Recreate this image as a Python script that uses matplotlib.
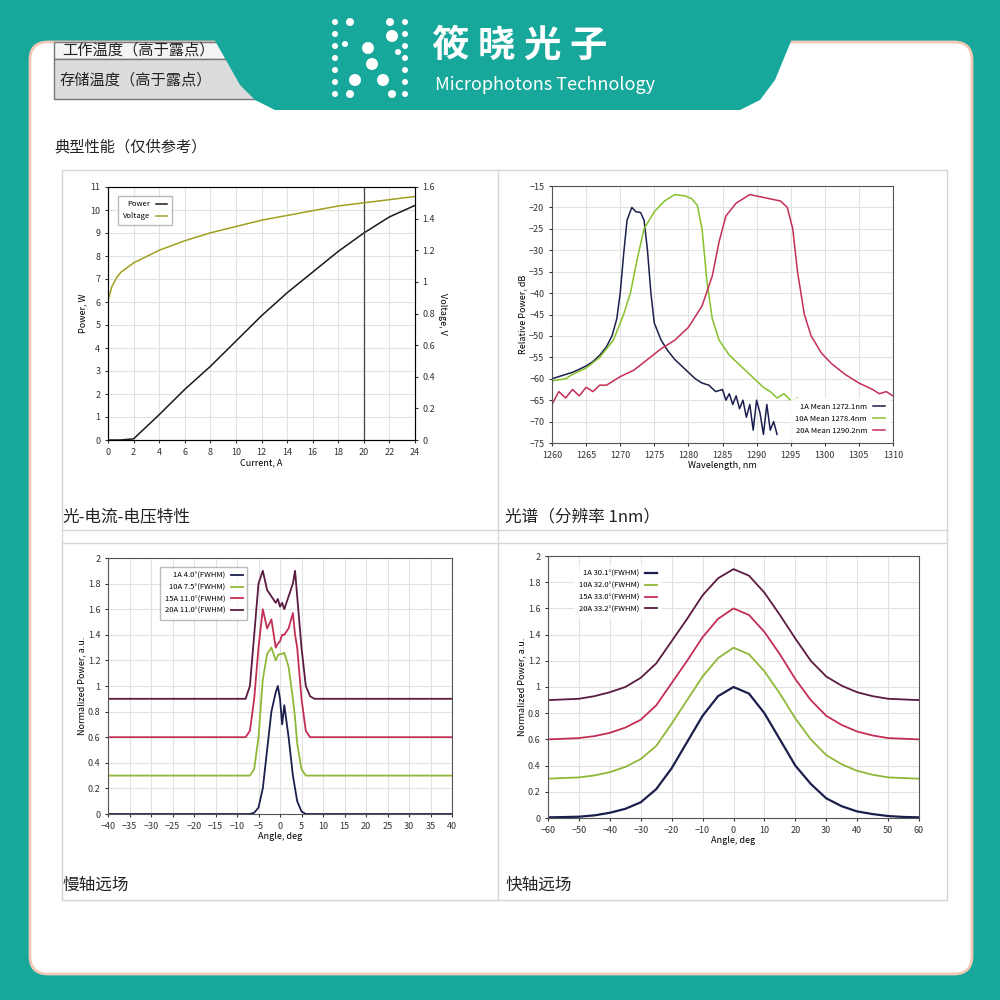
import matplotlib
matplotlib.use("Agg")
import matplotlib.pyplot as plt
import numpy as np
from matplotlib.patches import FancyBboxPatch, Polygon, Rectangle, Circle

plt.rcParams['font.family'] = ['Noto Sans CJK SC', 'DejaVu Sans']

# ---------------- data ----------------
liv_current = [0, 1, 2, 4, 6, 8, 10, 12, 14, 16, 18, 20, 22, 24]
liv_power = [0, 0, 0.05, 1.1, 2.2, 3.2, 4.3, 5.4, 6.4, 7.3, 8.2, 9.0, 9.7, 10.2]
liv_volt_current = [0, 0.3, 0.7, 1, 2, 4, 6, 8, 10, 12, 14, 16, 18, 20, 22, 24]
liv_voltage = [0.88, 0.97, 1.03, 1.06, 1.12, 1.2, 1.26, 1.31, 1.35, 1.39, 1.42, 1.45, 1.48, 1.50, 1.52, 1.54]

sp_wl_1A = [1260, 1261, 1262, 1263, 1264, 1265, 1266, 1267, 1268, 1268.8, 1269.5, 1270, 1270.5, 1271, 1271.7, 1272.3, 1273, 1273.5,
            1274, 1274.5, 1275, 1276, 1277, 1278, 1279, 1280, 1281, 1282, 1283, 1284, 1285, 1285.5, 1286, 1286.5, 1287, 1287.5,
            1288, 1288.5, 1289, 1289.5, 1290, 1290.5, 1291, 1291.5, 1292, 1292.5, 1293]
sp_1A = [-60, -59.5, -59, -58.5, -57.8, -57, -56, -54.5, -52.5, -50, -46, -40, -31, -23, -20, -21, -21.2, -23,
         -30, -40, -47, -51, -53.5, -55.5, -57, -58.5, -60, -61, -61.5, -63, -62.5, -65, -63.5, -66, -64, -67,
         -65, -69, -66, -72, -65, -68, -73, -66, -72, -70, -73]
sp_wl_10A = [1260, 1262, 1263, 1265, 1267, 1269, 1270.5, 1271.5, 1272.5, 1273.5, 1275, 1276.5, 1278, 1279.5, 1280.5, 1281.3,
             1282, 1282.7, 1283.5, 1284.5, 1286, 1288, 1290, 1291, 1292, 1293, 1294, 1295, 1296]
sp_10A = [-60.5, -60, -59, -57.5, -55, -51, -45, -40, -32, -25, -21, -18.5, -17, -17.3, -18, -19.5,
          -25, -37, -46, -51, -54.5, -57.5, -60.5, -62, -63, -64.5, -63.5, -65, -64.5]
sp_wl_20A = [1260, 1261, 1262, 1263, 1264, 1265, 1266, 1267, 1268, 1270, 1272, 1274, 1276, 1278, 1280, 1282, 1283.5, 1284.5,
             1285.5, 1287, 1289, 1290.5, 1292, 1293.5, 1294.5, 1295.3, 1296, 1297, 1298, 1299.5, 1301, 1303, 1305, 1307, 1308, 1309, 1310]
sp_20A = [-66, -63, -64.5, -62.5, -64, -62, -63, -61.5, -61.5, -59.5, -58, -55.5, -53, -51, -48, -43, -36, -28,
          -22, -19, -17, -17.5, -18, -18.5, -20, -25, -35, -45, -50, -54, -56.5, -59, -61, -62.5, -63.5, -63, -64]
sp_labels = ['1A Mean 1272.1nm', '10A Mean 1278.4nm', '20A Mean 1290.2nm']

slow_angle = [-40, -9, -8, -7, -6, -5, -4, -3, -2, -1, -0.5, 0, 0.5, 1, 2, 3, 3.5, 4, 5, 6, 7, 8, 9, 40]
slow_1A = [0, 0, 0, 0, 0.01, 0.05, 0.2, 0.5, 0.8, 0.95, 1.0, 0.9, 0.7, 0.85, 0.6, 0.3, 0.2, 0.1, 0.02, 0, 0, 0, 0, 0]
slow_10A = [0.3, 0.3, 0.3, 0.3, 0.35, 0.6, 1.05, 1.25, 1.3, 1.2, 1.24, 1.25, 1.25, 1.26, 1.15, 0.9, 0.75, 0.55, 0.35, 0.3, 0.3, 0.3, 0.3, 0.3]
slow_15A = [0.6, 0.6, 0.6, 0.65, 0.9, 1.3, 1.6, 1.45, 1.52, 1.3, 1.33, 1.35, 1.4, 1.4, 1.45, 1.57, 1.4, 1.3, 0.9, 0.65, 0.6, 0.6, 0.6, 0.6]
slow_20A = [0.9, 0.9, 0.9, 1.0, 1.4, 1.8, 1.9, 1.75, 1.7, 1.65, 1.68, 1.62, 1.65, 1.6, 1.7, 1.8, 1.9, 1.7, 1.3, 1.0, 0.92, 0.9, 0.9, 0.9]
slow_labels = ['1A 4.0°(FWHM)', '10A 7.5°(FWHM)', '15A 11.0°(FWHM)', '20A 11.0°(FWHM)']

fast_angle = [-60, -55, -50, -45, -40, -35, -30, -25, -20, -15, -10, -5, 0, 5, 10, 15, 20, 25, 30, 35, 40, 45, 50, 55, 60]
fast_1A = [0.005, 0.007, 0.01, 0.02, 0.04, 0.07, 0.12, 0.22, 0.38, 0.58, 0.78, 0.93, 1.0, 0.95, 0.8, 0.6, 0.4, 0.26, 0.15, 0.09, 0.05, 0.03, 0.015, 0.008, 0.005]
fast_10A = [0.3, 0.305, 0.31, 0.325, 0.35, 0.39, 0.45, 0.55, 0.72, 0.9, 1.08, 1.22, 1.3, 1.25, 1.12, 0.95, 0.76, 0.6, 0.48, 0.41, 0.36, 0.33, 0.31, 0.305, 0.3]
fast_15A = [0.6, 0.605, 0.61, 0.625, 0.65, 0.69, 0.75, 0.86, 1.03, 1.2, 1.38, 1.52, 1.6, 1.55, 1.42, 1.25, 1.06, 0.9, 0.78, 0.71, 0.66, 0.63, 0.61, 0.605, 0.6]
fast_20A = [0.9, 0.905, 0.91, 0.93, 0.96, 1.0, 1.07, 1.18, 1.35, 1.52, 1.7, 1.83, 1.9, 1.85, 1.72, 1.55, 1.37, 1.2, 1.08, 1.01, 0.96, 0.93, 0.91, 0.905, 0.9]
fast_labels = ['1A 30.1°(FWHM)', '10A 32.0°(FWHM)', '15A 33.0°(FWHM)', '20A 33.2°(FWHM)']

captions = ['光-电流-电压特性', '光谱（分辨率 1nm）', '慢轴远场', '快轴远场']

C_NAVY = '#1b1f4d'
C_GREEN = '#8fb838'
C_RED = '#c42e55'
C_PURPLE = '#5b1a3f'
TEAL = '#17a89b'

W = H = 1000
fig = plt.figure(figsize=(10, 10), dpi=100)
fig.patch.set_facecolor(TEAL)
bg = fig.add_axes([0, 0, 1, 1])
bg.set_xlim(0, W); bg.set_ylim(H, 0); bg.axis('off')

bg.add_patch(FancyBboxPatch((30, 42), 942, 932, boxstyle="round,pad=0,rounding_size=18",
                            fc='white', ec='#f2c9b8', lw=2, zorder=1))
bg.add_patch(Rectangle((54, 42), 205, 17, fc='#f4f4f4', ec='#777', lw=1, zorder=2))
bg.add_patch(Rectangle((54, 59), 205, 40, fc='#dcdcdc', ec='#777', lw=1, zorder=2))
bg.text(62, 50, '工作温度（高于露点）', fontsize=11, va='center', color='#222', zorder=3)
bg.text(60, 80, '存储温度（高于露点）', fontsize=11, va='center', color='#222', zorder=3)
bg.text(54, 147, '典型性能（仅供参考）', fontsize=11, va='center', color='#222', zorder=3)
bg.add_patch(Polygon([(192, 0), (808, 0), (775, 80), (760, 100), (740, 110), (275, 110), (255, 100), (240, 85)],
                     closed=True, fc=TEAL, ec='none', zorder=4))
for (x, y, r) in [(335, 22, 3), (335, 34, 3), (335, 46, 3), (335, 58, 3), (335, 70, 3), (335, 82, 3), (335, 94, 3),
                  (405, 22, 3), (405, 34, 3), (405, 46, 3), (405, 58, 3), (405, 70, 3), (405, 82, 3), (405, 94, 3),
                  (350, 22, 4), (390, 22, 4), (392, 36, 6), (368, 48, 6), (372, 64, 6), (355, 80, 6), (383, 80, 6),
                  (350, 94, 4), (392, 94, 4), (345, 44, 3), (398, 52, 3)]:
    bg.add_patch(Circle((x, y), r, fc='white', ec='none', zorder=5))
bg.text(432, 45, '筱 晓 光 子', fontsize=27, fontweight='bold', color='white', va='center', zorder=5)
bg.text(435, 85, 'Microphotons Technology', fontsize=13, color='white', va='center', zorder=5)

gc = '#d6d6d6'
for y in [170, 530, 543, 900]:
    bg.plot([62, 947], [y, y], color=gc, lw=1, zorder=2)
for x in [62, 498, 947]:
    bg.plot([x, x], [170, 900], color=gc, lw=1, zorder=2)
for i, (x, y) in enumerate([(62, 517), (505, 517), (62, 885), (505, 885)]):
    bg.text(x, y, captions[i], fontsize=12, va='center', color='#222', zorder=3)


def ax_at(x0, y0, x1, y1):
    return fig.add_axes([x0 / W, 1 - y1 / H, (x1 - x0) / W, (y1 - y0) / H])


def style(ax):
    ax.grid(True, color='#e2e2e2', lw=0.8)
    ax.tick_params(labelsize=6.5, length=2, colors='#333')
    for s in ax.spines.values():
        s.set_color('#555'); s.set_linewidth(0.8)


def legend(ax, loc, **kw):
    lg = ax.legend(loc=loc, fontsize=5.5, frameon=True, fancybox=False, markerfirst=False,
                   handlelength=1.5, borderpad=0.6, **kw)
    lg.get_frame().set_edgecolor('#aaa')
    return lg

ax1 = ax_at(108, 187, 415, 440)
style(ax1)
ax1.plot(liv_current, liv_power, color='#1a1a1a', lw=1.1, label='Power')
ax1.plot([], [], color='#a0a020', lw=1.1, label='Voltage')
ax1.axvline(20, color='#444', lw=0.9)
ax1.set_xlim(0, 24); ax1.set_ylim(0, 11)
ax1.set_xticks(range(0, 25, 2)); ax1.set_yticks(range(0, 12))
ax1.set_xlabel('Current, A', fontsize=6.5, labelpad=1)
ax1.set_ylabel('Power, W', fontsize=6.5, labelpad=2)
ax1b = ax1.twinx()
ax1b.plot(liv_volt_current, liv_voltage, color='#a0a020', lw=1.1)
ax1b.set_ylim(0, 1.6); ax1b.set_yticks(np.arange(0, 1.61, 0.2))
ax1b.set_yticklabels(['0', '0.2', '0.4', '0.6', '0.8', '1', '1.2', '1.4', '1.6'])
ax1b.tick_params(labelsize=6.5, length=2, colors='#333')
ax1b.set_ylabel('Voltage, V', fontsize=6.5, rotation=270, labelpad=8)
legend(ax1, 'upper left', bbox_to_anchor=(0.02, 0.98))

ax2 = ax_at(552, 186, 893, 443)
style(ax2)
ax2.plot(sp_wl_1A, sp_1A, color=C_NAVY, lw=1.1, label=sp_labels[0])
ax2.plot(sp_wl_10A, sp_10A, color='#86c02a', lw=1.1, label=sp_labels[1])
ax2.plot(sp_wl_20A, sp_20A, color=C_RED, lw=1.1, label=sp_labels[2])
ax2.set_xlim(1260, 1310); ax2.set_ylim(-75, -15)
ax2.set_xticks(range(1260, 1311, 5)); ax2.set_yticks(range(-75, -14, 5))
ax2.set_xlabel('Wavelength, nm', fontsize=6.5, labelpad=1)
ax2.set_ylabel('Relative Power, dB', fontsize=6.5, labelpad=1)
lg = legend(ax2, 'lower right', bbox_to_anchor=(1.0, 0.0))
lg.get_frame().set_edgecolor('white')

ax3 = ax_at(108, 558, 452, 814)
style(ax3)
ax3.plot(slow_angle, slow_1A, color=C_NAVY, lw=1.3, label=slow_labels[0])
ax3.plot(slow_angle, slow_10A, color=C_GREEN, lw=1.3, label=slow_labels[1])
ax3.plot(slow_angle, slow_15A, color=C_RED, lw=1.3, label=slow_labels[2])
ax3.plot(slow_angle, slow_20A, color=C_PURPLE, lw=1.3, label=slow_labels[3])
ax3.set_xlim(-40, 40); ax3.set_ylim(0, 2)
ax3.set_xticks(range(-40, 41, 5)); ax3.set_yticks(np.arange(0, 2.01, 0.2))
ax3.set_yticklabels(['0', '0.2', '0.4', '0.6', '0.8', '1', '1.2', '1.4', '1.6', '1.8', '2'])
ax3.set_xlabel('Angle, deg', fontsize=6.5, labelpad=1)
ax3.set_ylabel('Normalized Power, a.u.', fontsize=6.5, labelpad=1)
legend(ax3, 'upper left', bbox_to_anchor=(0.14, 0.98))

ax4 = ax_at(548, 556, 919, 818)
style(ax4)
ax4.plot(fast_angle, fast_1A, color=C_NAVY, lw=1.6, label=fast_labels[0])
ax4.plot(fast_angle, fast_10A, color=C_GREEN, lw=1.3, label=fast_labels[1])
ax4.plot(fast_angle, fast_15A, color=C_RED, lw=1.3, label=fast_labels[2])
ax4.plot(fast_angle, fast_20A, color=C_PURPLE, lw=1.3, label=fast_labels[3])
ax4.set_xlim(-60, 60); ax4.set_ylim(0, 2)
ax4.set_xticks(range(-60, 61, 10)); ax4.set_yticks(np.arange(0, 2.01, 0.2))
ax4.set_yticklabels(['0', '0.2', '0.4', '0.6', '0.8', '1', '1.2', '1.4', '1.6', '1.8', '2'])
ax4.set_xlabel('Angle, deg', fontsize=6.5, labelpad=1)
ax4.set_ylabel('Normalized Power, a.u.', fontsize=6.5, labelpad=1)
lg = legend(ax4, 'upper left', bbox_to_anchor=(0.06, 0.98))
lg.get_frame().set_edgecolor('white')

fig.savefig('out.png', dpi=100, facecolor=fig.get_facecolor())
